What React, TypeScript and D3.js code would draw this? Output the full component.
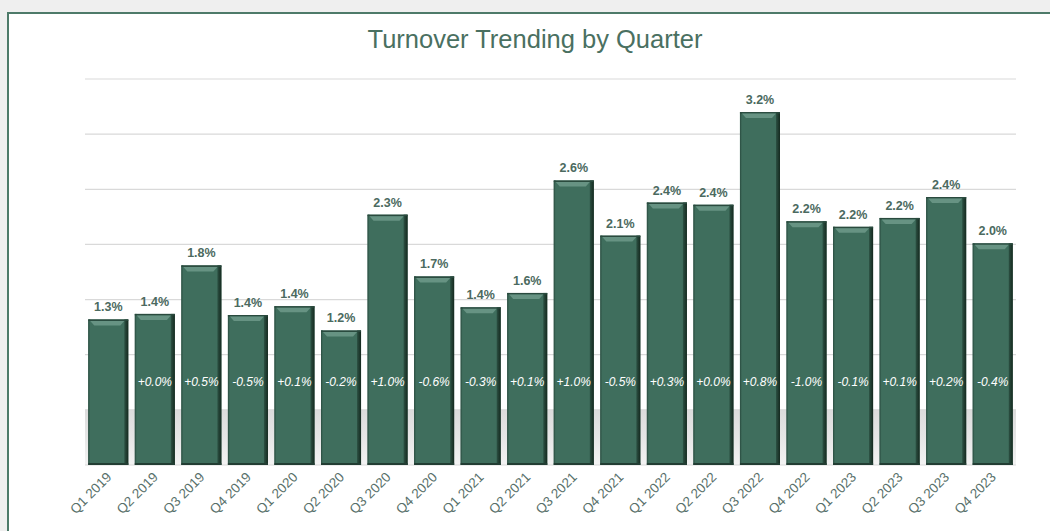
import React from "react";
import * as d3 from "d3";

const categories = [
  "Q1 2019", "Q2 2019", "Q3 2019", "Q4 2019",
  "Q1 2020", "Q2 2020", "Q3 2020", "Q4 2020",
  "Q1 2021", "Q2 2021", "Q3 2021", "Q4 2021",
  "Q1 2022", "Q2 2022", "Q3 2022", "Q4 2022",
  "Q1 2023", "Q2 2023", "Q3 2023", "Q4 2023",
];
const turnover = [
  1.32, 1.37, 1.81, 1.36,
  1.44, 1.22, 2.27, 1.71,
  1.43, 1.56, 2.58, 2.08,
  2.38, 2.36, 3.2, 2.21,
  2.16, 2.24, 2.43, 2.01,
];
const changeLabels = [
  "", "+0.0%", "+0.5%", "-0.5%",
  "+0.1%", "-0.2%", "+1.0%", "-0.6%",
  "-0.3%", "+0.1%", "+1.0%", "-0.5%",
  "+0.3%", "+0.0%", "+0.8%", "-1.0%",
  "-0.1%", "+0.1%", "+0.2%", "-0.4%",
];
const yTicks = [0, 0.5, 1, 1.5, 2, 2.5, 3, 3.5];
const title = "Turnover Trending by Quarter";

const W = 1050;
const H = 531;
const left = 85;
const right = 1016;
const top = 79;
const bottom = 465;

export default function App() {
  const x = d3.scaleBand<string>().domain(categories).range([left, right]).paddingInner(0.14).paddingOuter(0.07);
  const y = d3.scaleLinear().domain([0, 3.5]).range([bottom, top]);
  const bw = x.bandwidth();
  const font = "Liberation Sans, Arial, sans-serif";

  return (
    <svg
      width={W}
      height={H}
      style={{ position: "fixed", left: 0, top: 0, background: "#efefef" }}
      fontFamily={font}
    >
      <defs>
        <linearGradient id="band" x1="0" y1="0" x2="0" y2="1">
          <stop offset="0" stopColor="#dcdcdc" />
          <stop offset="0.5" stopColor="#e6e6e6" />
          <stop offset="1" stopColor="#f3f3f3" />
        </linearGradient>
        <linearGradient id="rightEdge" x1="0" y1="0" x2="1" y2="0">
          <stop offset="0" stopColor="#2c5143" />
          <stop offset="1" stopColor="#15291f" />
        </linearGradient>
        <linearGradient id="leftEdge" x1="0" y1="0" x2="1" y2="0">
          <stop offset="0" stopColor="#2a4c40" />
          <stop offset="1" stopColor="#3f6e5d" />
        </linearGradient>
      </defs>
      <rect x={8} y={13} width={W} height={H} fill="#ffffff" stroke="#4d7a69" strokeWidth={2} />
      <text x={535} y={48} textAnchor="middle" fontSize={25.5} fill="#4a7061">
        {title}
      </text>
      <rect x={left} y={y(0.5)} width={right - left} height={bottom - y(0.5)} fill="url(#band)" />
      {yTicks.map((t) => (
        <line key={t} x1={left} x2={right} y1={y(t)} y2={y(t)} stroke="#d9d9d9" strokeWidth={1.2} />
      ))}
      {categories.map((c, i) => {
        const x0 = x(c)!;
        const y0 = y(turnover[i]);
        const h = bottom - y0;
        return (
          <g key={c}>
            <rect x={x0} y={y0} width={bw} height={h} fill="#3f6e5d" />
            <rect x={x0} y={y0} width={2} height={h} fill="url(#leftEdge)" />
            <rect x={x0 + bw - 4} y={y0} width={4} height={h} fill="url(#rightEdge)" />
            <rect x={x0} y={bottom - 2} width={bw} height={2} fill="#223d33" />
            <rect x={x0} y={y0} width={bw} height={1.5} fill="#2a4a3e" />
            <polygon
              points={`${x0 + 2},${y0 + 1.5} ${x0 + bw - 4},${y0 + 1.5} ${x0 + bw - 8},${y0 + 6} ${x0 + 6},${y0 + 6}`}
              fill="#679383"
            />
            <text x={x0 + bw / 2} y={y0 - 8} textAnchor="middle" fontSize={12.5} fontWeight="bold" fill="#4b6a60">
              {d3.format(".1f")(turnover[i]) + "%"}
            </text>
            {changeLabels[i] && (
              <text x={x0 + bw / 2} y={386} textAnchor="middle" fontSize={12} fontStyle="italic" fill="#ffffff">
                {changeLabels[i]}
              </text>
            )}
            <text
              transform={`translate(${x0 + bw / 2 + 4},${bottom + 13}) rotate(-45)`}
              textAnchor="end"
              fontSize={13.5}
              fill="#58706a"
            >
              {c}
            </text>
          </g>
        );
      })}
    </svg>
  );
}
